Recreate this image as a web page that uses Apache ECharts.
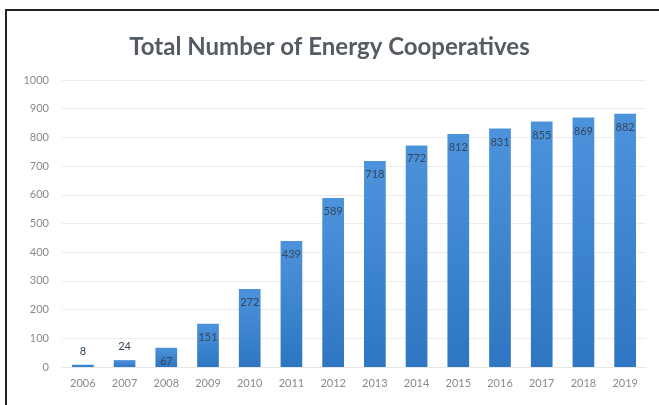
<!DOCTYPE html>
<html>
<head>
<meta charset="utf-8">
<script src="https://cdn.jsdelivr.net/npm/echarts@6/dist/echarts.min.js"></script>
<style>
  html, body { margin: 0; padding: 0; background: #fff; overflow: hidden; }
  #frame { position: absolute; left: 5px; top: 9px; width: 654px; height: 396px;
           border-top: 2px solid #222; border-left: 2px solid #222; box-sizing: border-box; }
  #chart { position: absolute; left: 0; top: 0; width: 659px; height: 405px; }
</style>
</head>
<body>
<div id="frame"></div>
<div id="chart"></div>
<script>
const years = ['2006', '2007', '2008', '2009', '2010', '2011', '2012',
  '2013', '2014', '2015', '2016', '2017', '2018', '2019'];
const totals = [8, 24, 67, 151, 272, 439, 589, 718, 772, 812, 831, 855, 869, 882];
const yTicks = [0, 100, 200, 300, 400, 500, 600, 700, 800, 900, 1000];

const chart = echarts.init(document.getElementById('chart'));

// short bars get their label above, like the original
const barData = totals.map(v => ({
  value: v,
  label: { position: v < 50 ? 'top' : 'insideTop' }
}));

chart.setOption({
  title: {
    text: 'Total Number of Energy Cooperatives',
    left: 'center',
    top: 30,
    textStyle: { fontFamily: 'Lato', fontSize: 24, fontWeight: 'bold', color: '#555b63' }
  },
  grid: { left: 62, right: 13, top: 80, bottom: 38 },
  xAxis: {
    type: 'category',
    data: years,
    axisLine: { lineStyle: { color: '#e6e6e6' } },
    axisTick: { show: false },
    axisLabel: { color: '#8a8a8a', fontFamily: 'Lato', fontSize: 11, margin: 11 }
  },
  yAxis: {
    type: 'value',
    min: yTicks[0],
    max: yTicks[yTicks.length - 1],
    interval: 100,
    splitLine: { lineStyle: { color: '#ececec' } },
    axisLabel: { color: '#8a8a8a', fontFamily: 'Lato', fontSize: 11, margin: 13, formatter: v => String(v) }
  },
  series: [{
    type: 'bar',
    data: barData,
    barWidth: '52%',
    itemStyle: {
      color: new echarts.graphic.LinearGradient(0, 0, 0, 1, [
        { offset: 0, color: '#4d93dc' },
        { offset: 1, color: '#2f76c2' }
      ])
    },
    label: {
      show: true,
      color: '#34465a',
      fontFamily: 'Lato',
      fontSize: 11,
      distance: 8
    }
  }]
});
</script>
</body>
</html>
